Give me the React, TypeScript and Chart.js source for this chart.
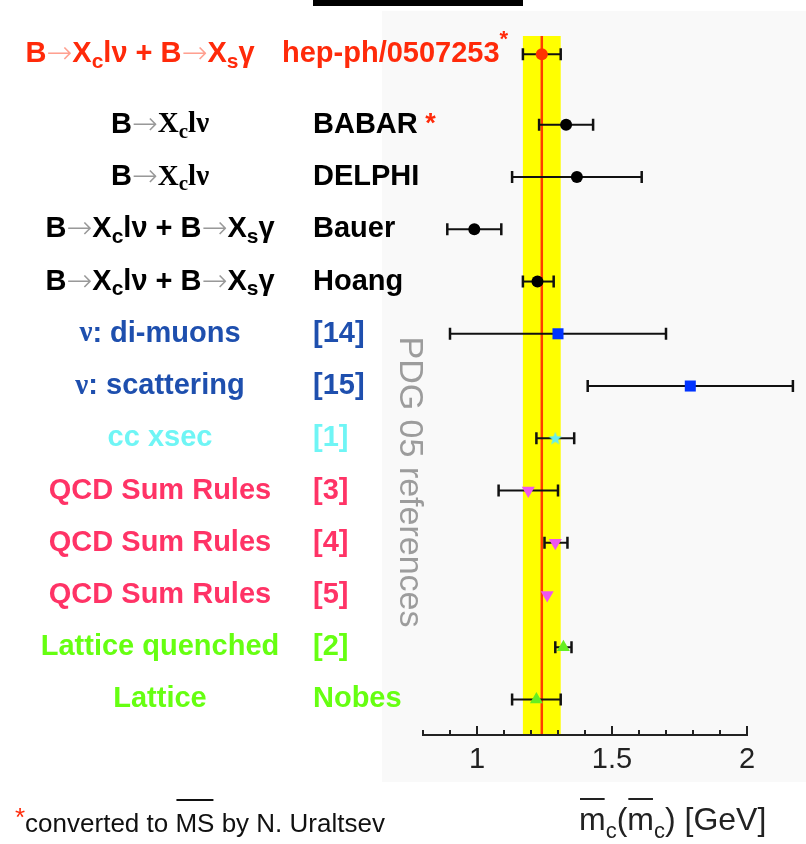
import React, { useEffect, useRef } from 'react';
import { Chart, registerables } from 'chart.js';

Chart.register(...registerables);

// ---- measurements of the charm quark mass, m_c(m_c) in GeV ----
const methods = [
  'B→X_clν + B→X_sγ',
  'B→X_clν',
  'B→X_clν',
  'B→X_clν + B→X_sγ',
  'B→X_clν + B→X_sγ',
  'ν: di-muons',
  'ν: scattering',
  'cc xsec',
  'QCD Sum Rules',
  'QCD Sum Rules',
  'QCD Sum Rules',
  'Lattice quenched',
  'Lattice',
];
const refs = [
  'hep-ph/0507253',
  'BABAR',
  'DELPHI',
  'Bauer',
  'Hoang',
  '[14]',
  '[15]',
  '[1]',
  '[3]',
  '[4]',
  '[5]',
  '[2]',
  'Nobes',
];
// results converted to MS-bar by N. Uraltsev
const convertedByUraltsev = [true, true, false, false, false, false, false, false, false, false, false, false, false];
// vertical position of each row (headline row sits a little apart)
const rowPos = [0, 1.35, 2.35, 3.35, 4.35, 5.35, 6.35, 7.35, 8.35, 9.35, 10.35, 11.35, 12.35];
const mcValues = [1.24, 1.33, 1.37, 0.99, 1.224, 1.3, 1.79, 1.29, 1.19, 1.29, 1.26, 1.32, 1.22];
const errMinus = [0.07, 0.1, 0.24, 0.1, 0.054, 0.4, 0.38, 0.07, 0.11, 0.04, 0, 0.03, 0.09];
const errPlus = [0.07, 0.1, 0.24, 0.1, 0.06, 0.4, 0.38, 0.07, 0.11, 0.045, 0, 0.03, 0.09];
// average shown as the yellow band
const averageMc = 1.24;
const averageErr = 0.07;
// x axis
const xMin = 0.8;
const xMax = 2.0;
const xStep = 0.1;
const xLabelled = [1, 1.5, 2];

// ---- styles ----
const SANS = '"Liberation Sans", Arial, Helvetica, sans-serif';
const SERIF = '"Liberation Serif", "Times New Roman", serif';
const ARROW_FONT = '"DejaVu Sans", sans-serif';
const RED = '#ff2a0a';
const BLUE = '#1e4fae';
const CYAN = '#6ff5f5';
const PINK = '#ff3366';
const GREEN = '#66ff11';
const rowColors = [RED, '#000', '#000', '#000', '#000', BLUE, BLUE, CYAN, PINK, PINK, PINK, GREEN, GREEN];
const arrowColors = ['#ffa090', '#999999', '#999999', '#999999', '#999999'];
const serifTail = [false, true, true, false, false, false, false, false, false, false, false, false, false];
const markerStyle = ['circle', 'circle', 'circle', 'circle', 'circle', 'rect', 'rect', 'star', 'triangle', 'triangle', 'triangle', 'triangle', 'triangle'];
const markerColor = ['#ff3300', '#000', '#000', '#000', '#000', '#0033ff', '#0033ff', '#66eeee', '#ee55ee', '#ee55ee', '#ee55ee', '#66ee22', '#66ee22'];
const markerRadius = [6, 6, 6, 6, 6, 7.8, 7.8, 6, 7.5, 7.5, 7.5, 7.5, 7.5];
const markerRotation = [0, 0, 0, 0, 0, 0, 0, 0, 180, 180, 180, 0, 0];

type Seg = { text: string; font: string; color: string; dy: number; over?: boolean };

function pushSeg(segs: Seg[], text: string, font: string, color: string, dy: number, over = false) {
  const last = segs[segs.length - 1];
  if (last && !over && !last.over && last.font === font && last.color === color && last.dy === dy) {
    last.text += text;
  } else {
    segs.push({ text, font, color, dy, over });
  }
}

// "_x" makes x a subscript, "→" is drawn as a thin light arrow
function methodSegs(label: string, color: string, arrowColor: string, serifAfterFirst: boolean, size: number): Seg[] {
  const segs: Seg[] = [];
  for (let i = 0; i < label.length; i++) {
    const ch = label[i];
    const serif = (serifAfterFirst && i > 0) || (i === 0 && ch === 'ν');
    const fam = serif ? SERIF : SANS;
    if (ch === '→') {
      pushSeg(segs, ch, `200 31px ${ARROW_FONT}`, arrowColor, 1);
    } else if (ch === '_') {
      const sub = label[i + 1];
      i++;
      pushSeg(segs, sub, `bold ${Math.round(size * 0.72)}px ${fam}`, color, Math.round(size * 0.27));
    } else {
      pushSeg(segs, ch, `bold ${size}px ${fam}`, color, 0);
    }
  }
  return segs;
}

function drawSegs(
  ctx: CanvasRenderingContext2D,
  segs: Seg[],
  x: number,
  y: number,
  align: 'left' | 'center',
  baseline: CanvasTextBaseline,
  overOffset = 0,
) {
  ctx.save();
  ctx.textAlign = 'left';
  ctx.textBaseline = baseline;
  const widths = segs.map((s) => {
    ctx.font = s.font;
    return ctx.measureText(s.text).width;
  });
  const total = widths.reduce((a, b) => a + b, 0);
  let cx = align === 'center' ? x - total / 2 : x;
  segs.forEach((s, i) => {
    ctx.font = s.font;
    ctx.fillStyle = s.color;
    ctx.fillText(s.text, cx, y + s.dy);
    if (s.over) {
      ctx.strokeStyle = s.color;
      ctx.lineWidth = 2;
      ctx.beginPath();
      ctx.moveTo(cx + 1, y - overOffset);
      ctx.lineTo(cx + widths[i] - 1, y - overOffset);
      ctx.stroke();
    }
    cx += widths[i];
  });
  ctx.restore();
}

function makeStar(color: string): HTMLCanvasElement {
  const c = document.createElement('canvas');
  c.width = 16;
  c.height = 16;
  const g = c.getContext('2d')!;
  g.fillStyle = color;
  g.beginPath();
  for (let k = 0; k < 10; k++) {
    const r = k % 2 === 0 ? 7 : 3;
    const a = -Math.PI / 2 + (k * Math.PI) / 5;
    const px = 8 + r * Math.cos(a);
    const py = 8.5 + r * Math.sin(a);
    if (k === 0) g.moveTo(px, py);
    else g.lineTo(px, py);
  }
  g.closePath();
  g.fill();
  return c;
}

const decorations = {
  id: 'mcDecorations',
  beforeDraw(chart: any) {
    const { ctx, chartArea } = chart;
    const xs = chart.scales.x;
    ctx.save();
    // panel background and heading bar
    ctx.fillStyle = '#f9f9f9';
    ctx.fillRect(382, 11, chart.width - 382, 771);
    ctx.fillStyle = '#000';
    ctx.fillRect(313, 0, 210, 6);
    // average band
    const l = xs.getPixelForValue(averageMc - averageErr);
    const r = xs.getPixelForValue(averageMc + averageErr);
    ctx.fillStyle = '#ffff00';
    ctx.fillRect(l, chartArea.top, r - l, chartArea.bottom - chartArea.top);
    const c = xs.getPixelForValue(averageMc);
    ctx.strokeStyle = '#ff3c00';
    ctx.lineWidth = 2.5;
    ctx.beginPath();
    ctx.moveTo(c, chartArea.top);
    ctx.lineTo(c, chartArea.bottom);
    ctx.stroke();
    ctx.restore();
  },
  beforeDatasetsDraw(chart: any) {
    const { ctx } = chart;
    const xs = chart.scales.x;
    const ys = chart.scales.y;
    ctx.save();
    ctx.strokeStyle = '#111';
    mcValues.forEach((v, i) => {
      if (!errMinus[i] && !errPlus[i]) return;
      const y = ys.getPixelForValue(rowPos[i]);
      const x0 = xs.getPixelForValue(v - errMinus[i]);
      const x1 = xs.getPixelForValue(v + errPlus[i]);
      ctx.lineWidth = 2;
      ctx.beginPath();
      ctx.moveTo(x0, y);
      ctx.lineTo(x1, y);
      ctx.stroke();
      ctx.lineWidth = 2.5;
      ctx.beginPath();
      ctx.moveTo(x0, y - 6);
      ctx.lineTo(x0, y + 6);
      ctx.moveTo(x1, y - 6);
      ctx.lineTo(x1, y + 6);
      ctx.stroke();
    });
    ctx.restore();
  },
  afterDraw(chart: any) {
    const { ctx, chartArea } = chart;
    const xs = chart.scales.x;
    const ys = chart.scales.y;
    ctx.save();

    // inward tick marks
    ctx.strokeStyle = '#222';
    ctx.lineWidth = 2;
    xs.ticks.forEach((t: any) => {
      const px = xs.getPixelForValue(t.value);
      const major = xLabelled.some((m) => Math.abs(m - t.value) < 1e-6);
      ctx.beginPath();
      ctx.moveTo(px, chartArea.bottom);
      ctx.lineTo(px, chartArea.bottom - (major ? 9 : 5));
      ctx.stroke();
    });

    // row labels
    const size = 29;
    methods.forEach((m, i) => {
      const y = ys.getPixelForValue(rowPos[i]);
      const color = rowColors[i];
      const segs = methodSegs(m, color, arrowColors[i] || '#999999', serifTail[i], size);
      const head = i === 0;
      drawSegs(ctx, segs, head ? 140 : 160, y, 'center', 'middle');
      const refSegs: Seg[] = [{ text: refs[i], font: `bold ${size}px ${SANS}`, color, dy: 0 }];
      if (convertedByUraltsev[i]) {
        if (head) refSegs.push({ text: '*', font: `bold 22px ${SANS}`, color: RED, dy: -14 });
        else refSegs.push({ text: ' *', font: `bold 27px ${SANS}`, color: RED, dy: 0 });
      }
      drawSegs(ctx, refSegs, head ? 282 : 313, y, 'left', 'middle');
    });

    // vertical side note
    ctx.save();
    ctx.translate(409, 482);
    ctx.rotate(Math.PI / 2);
    ctx.font = `normal 34px ${SANS}`;
    ctx.fillStyle = '#9c9c9c';
    ctx.textAlign = 'center';
    ctx.textBaseline = 'middle';
    ctx.fillText('PDG 05 references', 0, 0);
    ctx.restore();

    // axis title: m̄_c(m̄_c) [GeV]
    const tf = `normal 32px ${SANS}`;
    const sf = `normal 22px ${SANS}`;
    const title: Seg[] = [
      { text: 'm', font: tf, color: '#222', dy: 0, over: true },
      { text: 'c', font: sf, color: '#222', dy: 8 },
      { text: '(', font: tf, color: '#222', dy: 0 },
      { text: 'm', font: tf, color: '#222', dy: 0, over: true },
      { text: 'c', font: sf, color: '#222', dy: 8 },
      { text: ') [GeV]', font: tf, color: '#222', dy: 0 },
    ];
    drawSegs(ctx, title, 579, 830, 'left', 'alphabetic', 31);

    // footnote
    const ff = `normal 26px ${SANS}`;
    const foot: Seg[] = [
      { text: '*', font: `normal 26px ${SANS}`, color: RED, dy: -6 },
      { text: 'converted to ', font: ff, color: '#111', dy: 0 },
      { text: 'MS', font: ff, color: '#111', dy: 0, over: true },
      { text: ' by N. Uraltsev', font: ff, color: '#111', dy: 0 },
    ];
    drawSegs(ctx, foot, 15, 832, 'left', 'alphabetic', 32);

    ctx.restore();
  },
};

export default function App() {
  const ref = useRef<HTMLCanvasElement>(null);

  useEffect(() => {
    const canvas = ref.current;
    if (!canvas) return;
    const star = makeStar('#66eeee');
    const chart = new Chart(canvas, {
      type: 'scatter',
      data: {
        datasets: [
          {
            data: mcValues.map((v, i) => ({ x: v, y: rowPos[i] })),
            pointStyle: markerStyle.map((s) => (s === 'star' ? star : s)) as any,
            pointRadius: markerRadius,
            pointRotation: markerRotation,
            backgroundColor: markerColor,
            borderColor: markerColor,
            borderWidth: 0,
            showLine: false,
          },
        ],
      },
      options: {
        animation: false,
        responsive: false,
        devicePixelRatio: 1,
        events: [],
        layout: { padding: { left: 423, right: 59, top: 36, bottom: 69 } },
        plugins: { legend: { display: false }, tooltip: { enabled: false } },
        scales: {
          x: {
            type: 'linear',
            min: xMin,
            max: xMax,
            grid: { display: false, drawTicks: false },
            border: { display: true, color: '#222', width: 2 },
            afterFit: (scale: any) => {
              scale.height = 40;
            },
            ticks: {
              stepSize: xStep,
              autoSkip: false,
              maxRotation: 0,
              padding: 8,
              color: '#222',
              font: { family: SANS, size: 29 },
              callback: (v: any) => {
                const n = Number(v);
                return xLabelled.some((m) => Math.abs(m - n) < 1e-6) ? String(Math.round(n * 10) / 10) : '';
              },
            },
          },
          y: {
            type: 'linear',
            display: false,
            reverse: true,
            min: -0.35,
            max: 13.03,
          },
        },
      },
      plugins: [decorations],
    });
    return () => chart.destroy();
  }, []);

  return (
    <div style={{ position: 'absolute', left: 0, top: 0, width: 806, height: 844, background: '#fff' }}>
      <canvas ref={ref} width={806} height={844} style={{ display: 'block', width: 806, height: 844 }} />
    </div>
  );
}
